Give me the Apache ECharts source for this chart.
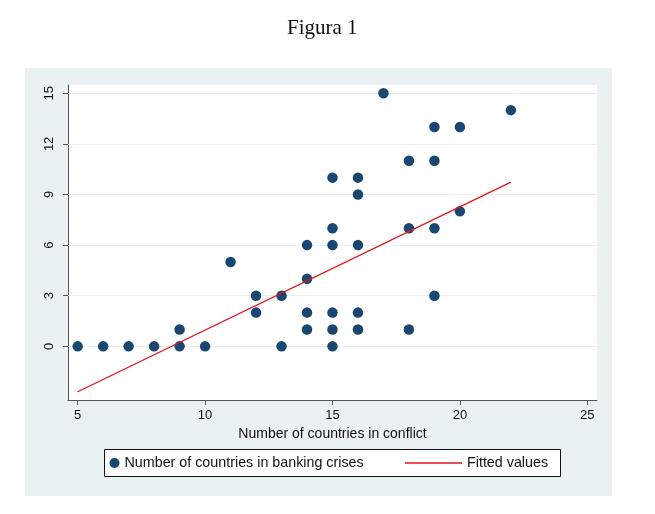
<!DOCTYPE html>
<html>
<head>
<meta charset="utf-8">
<script src="https://cdn.jsdelivr.net/npm/echarts@6/dist/echarts.min.js"></script>
<style>
html,body{margin:0;padding:0;background:#fff;}
#c{width:655px;height:514px;}
</style>
</head>
<body>
<div id="c"></div>
<script>
// Data
const conflictX = [5, 6, 7, 8, 9, 9, 10, 11, 12, 12, 13, 13, 14, 14, 14, 14, 15, 15, 15, 15, 15, 15, 16, 16, 16, 16, 16, 17, 18, 18, 18, 19, 19, 19, 19, 20, 20, 22];
const crisesY   = [0, 0, 0, 0, 0, 1, 0, 5, 3, 2, 3, 0, 6, 4, 2, 1, 10, 7, 6, 2, 1, 0, 10, 9, 6, 2, 1, 15, 11, 7, 1, 13, 11, 7, 3, 13, 8, 14];
const fittedX = [5, 22];
const fittedY = [-2.69, 9.73];
const xTicks = [5, 10, 15, 20, 25];
const yTicks = [0, 3, 6, 9, 12, 15];
const scatterName = 'Number of countries in banking crises';
const lineName = 'Fitted values';

const scatterData = conflictX.map((x, i) => [x, crisesY[i]]);
const lineData = fittedX.map((x, i) => [x, fittedY[i]]);

const chart = echarts.init(document.getElementById('c'), null, {renderer: 'canvas'});
const font = '"Liberation Sans", Arial, sans-serif';
chart.setOption({
  animation: false,
  title: {
    text: 'Figura 1',
    left: 287,
    top: 18,
    padding: 0,
    textStyle: {fontFamily: '"Liberation Serif", "Times New Roman", serif', fontSize: 21, fontWeight: 'normal', color: '#111'}
  },
  graphic: [
    {type: 'rect', z: -10, silent: true, shape: {x: 25, y: 68, width: 587, height: 428}, style: {fill: '#eaf1f3'}},
    {type: 'rect', z: 1, silent: true, shape: {x: 104.5, y: 449.5, width: 456, height: 27}, style: {fill: '#ffffff', stroke: '#111', lineWidth: 1}}
  ],
  legend: [
    {
      data: [scatterName], left: 109.5, top: 456, padding: 0, z: 5,
      itemWidth: 10, itemHeight: 10, icon: 'circle',
      textStyle: {fontFamily: font, fontSize: 14.3, color: '#111'}
    },
    {
      data: [{name: lineName, icon: 'rect'}], left: 405, top: 456, padding: 0, z: 5,
      itemWidth: 57, itemHeight: 1.5,
      textStyle: {fontFamily: font, fontSize: 14.3, color: '#111'}
    }
  ],
  grid: {
    left: 68, top: 85, width: 529, height: 315,
    show: true, backgroundColor: '#ffffff', borderWidth: 0,
    containLabel: false
  },
  xAxis: {
    type: 'value', min: 4.62, max: 25.38,
    name: 'Number of countries in conflict', nameLocation: 'middle', nameGap: 23,
    nameTextStyle: {fontFamily: font, fontSize: 14, color: '#111'},
    axisLine: {show: true, onZero: false, lineStyle: {color: '#555', width: 1}},
    axisTick: {show: true, length: 5, customValues: xTicks, lineStyle: {color: '#555'}},
    axisLabel: {customValues: xTicks, margin: 9, fontFamily: font, fontSize: 13, color: '#111'},
    splitLine: {show: false}
  },
  yAxis: {
    type: 'value', min: -3.18, max: 15.49,
    axisLine: {show: true, onZero: false, lineStyle: {color: '#555', width: 1}},
    axisTick: {show: true, length: 5, customValues: yTicks, lineStyle: {color: '#555'}},
    axisLabel: {customValues: yTicks, rotate: 90, margin: 12, fontFamily: font, fontSize: 13, color: '#111'},
    splitLine: {show: false}
  },
  series: [
    {
      name: scatterName, type: 'scatter', data: scatterData,
      symbol: 'circle', symbolSize: 10.5, z: 3,
      itemStyle: {color: '#1a476f', opacity: 1},
      markLine: {
        silent: true, symbol: 'none', z: 1,
        label: {show: false},
        lineStyle: {color: '#eaf1f3', type: 'solid', width: 1},
        data: yTicks.map(v => ({yAxis: v}))
      }
    },
    {
      name: lineName, type: 'line', data: lineData,
      showSymbol: false, symbol: 'none', z: 4,
      lineStyle: {color: '#e3141c', width: 1.3},
      itemStyle: {color: '#e3141c'}
    }
  ]
});
</script>
</body>
</html>
